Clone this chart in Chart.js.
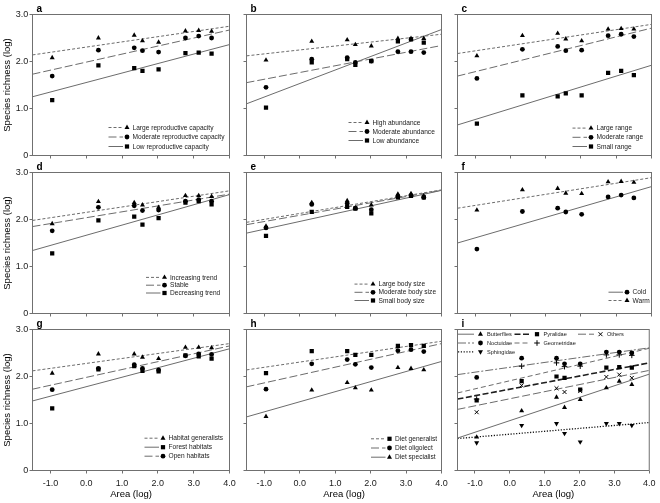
<!DOCTYPE html>
<html><head><meta charset="utf-8">
<script src="https://cdn.jsdelivr.net/npm/chart.js@4.4.1/dist/chart.umd.min.js"></script>
<style>
html,body{margin:0;padding:0;background:#fff;}
#wrap{position:relative;width:660px;height:503px;overflow:hidden;background:#fff;}
#wrap canvas{position:absolute;left:0;top:0;}
</style></head><body><div id="wrap"></div>
<script>
// ---------- data ----------
const AREA_X = [-0.95, 0.34, 1.34, 1.57, 2.02, 2.77, 3.14, 3.5];
const FIT_X = [-1.5, 4.0];
const X_TICKS = [-1, 0, 1, 2, 3, 4];
const X_TICK_LABELS = ['-1.0', '0.0', '1.0', '2.0', '3.0', '4.0'];
const Y_TICKS = [0, 1, 2, 3];
const Y_TICK_LABELS = ['0', '1.0', '2.0', '3.0'];

const A_LARGE = [2.08, 2.50, 2.56, 2.44, 2.41, 2.65, 2.66, 2.64];
const A_LARGE_FIT = [2.14, 2.75];
const A_MODERATE = [1.69, 2.24, 2.29, 2.23, 2.20, 2.50, 2.54, 2.50];
const A_MODERATE_FIT = [1.73, 2.67];
const A_LOW = [1.18, 1.92, 1.86, 1.80, 1.83, 2.18, 2.19, 2.17];
const A_LOW_FIT = [1.25, 2.36];

const B_HIGH = [2.03, 2.43, 2.46, 2.36, 2.33, 2.49, 2.49, 2.49];
const B_HIGH_FIT = [2.12, 2.58];
const B_MODERATE = [1.45, 2.05, 2.08, 1.98, 2.01, 2.21, 2.21, 2.19];
const B_MODERATE_FIT = [1.55, 2.34];
const B_LOW = [1.02, 1.98, 2.05, 1.93, 2.01, 2.43, 2.47, 2.40];
const B_LOW_FIT = [1.10, 2.68];

const C_LARGE = [2.12, 2.55, 2.60, 2.48, 2.44, 2.69, 2.70, 2.69];
const C_LARGE_FIT = [2.17, 2.79];
const C_MODERATE = [1.64, 2.26, 2.32, 2.23, 2.24, 2.55, 2.58, 2.53];
const C_MODERATE_FIT = [1.69, 2.71];
const C_SMALL = [0.68, 1.28, 1.26, 1.32, 1.28, 1.76, 1.80, 1.71];
const C_SMALL_FIT = [0.65, 1.92];

const D_INCREASING = [1.91, 2.38, 2.36, 2.31, 2.26, 2.51, 2.51, 2.49];
const D_INCREASING_FIT = [1.98, 2.61];
const D_STABLE = [1.76, 2.26, 2.29, 2.19, 2.20, 2.39, 2.42, 2.39];
const D_STABLE_FIT = [1.85, 2.54];
const D_DECREASING = [1.28, 1.98, 2.06, 1.89, 2.03, 2.36, 2.39, 2.32];
const D_DECREASING_FIT = [1.34, 2.53];

const E_LARGE = [1.86, 2.36, 2.40, 2.24, 2.31, 2.54, 2.55, 2.50];
const E_LARGE_FIT = [1.94, 2.63];
const E_MODERATE = [1.82, 2.32, 2.34, 2.24, 2.21, 2.49, 2.51, 2.47];
const E_MODERATE_FIT = [1.89, 2.62];
const E_SMALL = [1.65, 2.16, 2.27, 2.23, 2.13, 2.47, 2.50, 2.47];
const E_SMALL_FIT = [1.71, 2.62];

const F_COLD = [1.37, 2.17, 2.24, 2.16, 2.11, 2.48, 2.52, 2.46];
const F_COLD_FIT = [1.50, 2.70];
const F_WARM = [2.20, 2.63, 2.66, 2.56, 2.55, 2.80, 2.81, 2.79];
const F_WARM_FIT = [2.24, 2.89];

const G_GENERALISTS = [2.07, 2.48, 2.48, 2.41, 2.38, 2.62, 2.62, 2.61];
const G_GENERALISTS_FIT = [2.12, 2.70];
const G_FOREST = [1.32, 2.15, 2.22, 2.12, 2.11, 2.45, 2.43, 2.38];
const G_FOREST_FIT = [1.48, 2.59];
const G_OPEN = [1.72, 2.17, 2.25, 2.17, 2.14, 2.44, 2.48, 2.47];
const G_OPEN_FIT = [1.73, 2.65];

const H_GENERALIST = [2.07, 2.54, 2.54, 2.46, 2.46, 2.65, 2.67, 2.65];
const H_GENERALIST_FIT = [2.14, 2.75];
const H_OLIGOLECT = [1.73, 2.27, 2.36, 2.26, 2.19, 2.55, 2.57, 2.53];
const H_OLIGOLECT_FIT = [1.78, 2.70];
const H_SPECIALIST = [1.15, 1.71, 1.87, 1.76, 1.71, 2.19, 2.17, 2.14];
const H_SPECIALIST_FIT = [1.14, 2.32];

const I_BUTTERFLIES = [0.71, 1.27, 1.56, 1.34, 1.51, 1.76, 1.90, 1.83];
const I_BUTTERFLIES_FIT = [0.69, 2.05];
const I_NOCTUIDAE = [1.98, 2.39, 2.39, 2.27, 2.27, 2.52, 2.52, 2.50];
const I_NOCTUIDAE_FIT = [2.04, 2.61];
const I_SPHINGIDAE = [0.59, 0.96, 1.00, 0.79, 0.61, 1.00, 1.00, 0.96];
const I_SPHINGIDAE_FIT = [0.68, 1.02];
const I_PYRALIDAE = [1.49, 1.90, 2.00, 1.97, 1.72, 2.19, 2.20, 2.19];
const I_PYRALIDAE_FIT = [1.52, 2.29];
const I_GEOMETRIDAE = [1.52, 2.22, 2.29, 2.21, 2.22, 2.46, 2.46, 2.45];
const I_GEOMETRIDAE_FIT = [1.65, 2.60];
const I_OTHERS = [1.24, 1.81, 1.75, 1.67, 1.69, 1.99, 2.04, 1.97];
const I_OTHERS_FIT = [1.30, 2.13];

// ---------- styles / layout ----------
const FONT = '"Liberation Sans", Arial, Helvetica, sans-serif';
Chart.defaults.font.family = FONT;
const LINE_GRAY = '#6c6c6c';
const STYLE = {
  short:   {dash: [3, 2],       color: LINE_GRAY, width: 1},
  long:    {dash: [8, 3],       color: LINE_GRAY, width: 1},
  solid:   {dash: [],           color: LINE_GRAY, width: 1},
  dashdot: {dash: [8, 2, 2, 2], color: LINE_GRAY, width: 1},
  mid:     {dash: [5, 3],       color: LINE_GRAY, width: 1},
  heavy:   {dash: [6, 2.5],     color: '#1e1e1e', width: 1.6},
  dot:     {dash: [1.2, 1.6],   color: '#111',    width: 1.3}
};
const MARK = {
  tri:   {pointStyle: 'triangle', radius: 2.9, rotation: 0,   borderWidth: 0},
  triDn: {pointStyle: 'triangle', radius: 2.9, rotation: 180, borderWidth: 0},
  circ:  {pointStyle: 'circle',   radius: 2.4, rotation: 0,   borderWidth: 0},
  sq:    {pointStyle: 'rect',     radius: 3.0, rotation: 0,   borderWidth: 0},
  plus:  {pointStyle: 'cross',    radius: 2.8, rotation: 0,   borderWidth: 1},
  xmark: {pointStyle: 'crossRot', radius: 2.8, rotation: 0,   borderWidth: 1}
};
const COL_L = [32.5, 246.5, 457.5];
const COL_R = [229.5, 441.5, 651.5];
const ROW_T = [14.5, 172.5, 329.5];
const ROW_B = [155.5, 313.5, 470.5];
const Y_AXIS_W = 32, X_AXIS_H = 30;

const PANELS = [
  {letter: 'a', col: 0, row: 0, legend: {tx: 100, last: 9, gap: 9.5, font: 6.6},
   series: [['Large reproductive capacity', A_LARGE, A_LARGE_FIT, 'short', 'tri'],
            ['Moderate reproductive capacity', A_MODERATE, A_MODERATE_FIT, 'long', 'circ'],
            ['Low reproductive capacity', A_LOW, A_LOW_FIT, 'solid', 'sq']]},
  {letter: 'b', col: 1, row: 0, legend: {tx: 126, last: 15, gap: 9, font: 6.6},
   series: [['High abundance', B_HIGH, B_HIGH_FIT, 'short', 'tri'],
            ['Moderate abundance', B_MODERATE, B_MODERATE_FIT, 'long', 'circ'],
            ['Low abundance', B_LOW, B_LOW_FIT, 'solid', 'sq']]},
  {letter: 'c', col: 2, row: 0, legend: {tx: 139, last: 9, gap: 9.2, font: 6.6},
   series: [['Large range', C_LARGE, C_LARGE_FIT, 'short', 'tri'],
            ['Moderate range', C_MODERATE, C_MODERATE_FIT, 'long', 'circ'],
            ['Small range', C_SMALL, C_SMALL_FIT, 'solid', 'sq']]},
  {letter: 'd', col: 0, row: 1, legend: {tx: 137.5, last: 20.5, gap: 7.8, font: 6.6},
   series: [['Increasing trend', D_INCREASING, D_INCREASING_FIT, 'short', 'tri'],
            ['Stable', D_STABLE, D_STABLE_FIT, 'long', 'circ'],
            ['Decreasing trend', D_DECREASING, D_DECREASING_FIT, 'solid', 'sq']]},
  {letter: 'e', col: 1, row: 1, legend: {tx: 132, last: 13, gap: 8.2, font: 6.6},
   series: [['Large body size', E_LARGE, E_LARGE_FIT, 'short', 'tri'],
            ['Moderate body size', E_MODERATE, E_MODERATE_FIT, 'long', 'circ'],
            ['Small body size', E_SMALL, E_SMALL_FIT, 'solid', 'sq']]},
  {letter: 'f', col: 2, row: 1, legend: {tx: 175, last: 13, gap: 8.3, font: 6.6},
   series: [['Cold', F_COLD, F_COLD_FIT, 'solid', 'circ'],
            ['Warm', F_WARM, F_WARM_FIT, 'short', 'tri']]},
  {letter: 'g', col: 0, row: 2, legend: {tx: 136, last: 14.3, gap: 9, font: 6.6},
   series: [['Habitat generalists', G_GENERALISTS, G_GENERALISTS_FIT, 'short', 'tri'],
            ['Forest habitats', G_FOREST, G_FOREST_FIT, 'solid', 'sq'],
            ['Open habitats', G_OPEN, G_OPEN_FIT, 'long', 'circ']]},
  {letter: 'h', col: 1, row: 2, legend: {tx: 148.5, last: 13.3, gap: 9.2, font: 6.6},
   series: [['Diet generalist', H_GENERALIST, H_GENERALIST_FIT, 'short', 'sq'],
            ['Diet oligolect', H_OLIGOLECT, H_OLIGOLECT_FIT, 'long', 'circ'],
            ['Diet specialist', H_SPECIALIST, H_SPECIALIST_FIT, 'solid', 'tri']]},
  {letter: 'i', col: 2, row: 2, legend: {grid: true, font: 5.6,
     cols: [29.5, 86, 149.5], rows: [4.7, 13.5, 22.3], order: [[0, 0], [0, 1], [0, 2], [1, 0], [1, 1], [2, 0]]},
   series: [['Butterflies', I_BUTTERFLIES, I_BUTTERFLIES_FIT, 'solid', 'tri'],
            ['Noctuidae', I_NOCTUIDAE, I_NOCTUIDAE_FIT, 'dashdot', 'circ'],
            ['Sphingidae', I_SPHINGIDAE, I_SPHINGIDAE_FIT, 'dot', 'triDn'],
            ['Pyralidae', I_PYRALIDAE, I_PYRALIDAE_FIT, 'heavy', 'sq'],
            ['Geometridae', I_GEOMETRIDAE, I_GEOMETRIDAE_FIT, 'mid', 'plus'],
            ['Others', I_OTHERS, I_OTHERS_FIT, 'long', 'xmark']]}
];

// ---------- decoration plugin: frame, panel letter, legend ----------
const decor = {
  id: 'decor',
  afterDraw(chart, args, o) {
    const {ctx, chartArea: a} = chart;
    const p = o.panel;
    ctx.save();
    ctx.setLineDash([]);
    ctx.strokeStyle = '#707070';
    ctx.lineWidth = 1;
    ctx.strokeRect(a.left, a.top, a.right - a.left, a.bottom - a.top);
    ctx.fillStyle = '#000';
    ctx.font = 'bold 10px ' + FONT;
    ctx.textAlign = 'left';
    ctx.textBaseline = 'alphabetic';
    ctx.fillText(p.letter, a.left + 4, a.top - 3);
    const lg = p.legend;
    ctx.font = lg.font + 'px ' + FONT;
    ctx.textBaseline = 'middle';
    const n = p.series.length;
    p.series.forEach((s, k) => {
      let x, y, l0, l1, mg;
      if (lg.grid) {
        const [c, r] = lg.order[k];
        x = a.left + lg.cols[c]; y = a.top + lg.rows[r];
        l0 = 29; l1 = 13; mg = 6.5;
      } else {
        x = a.left + lg.tx; y = a.bottom - lg.last - (n - 1 - k) * lg.gap;
        l0 = 24; l1 = 9.5; mg = 5.5;
      }
      const st = STYLE[s[3]];
      ctx.strokeStyle = st.color; ctx.lineWidth = st.width; ctx.setLineDash(st.dash);
      ctx.beginPath(); ctx.moveTo(x - l0, y); ctx.lineTo(x - l1, y); ctx.stroke();
      ctx.setLineDash([]);
      const m = MARK[s[4]];
      ctx.fillStyle = '#000'; ctx.strokeStyle = '#000'; ctx.lineWidth = 1;
      Chart.helpers.drawPoint(ctx, m, x - mg, y);
      ctx.fillStyle = '#1a1a1a';
      ctx.fillText(s[0], x, y + 0.3);
    });
    ctx.restore();
  }
};

const wrap = document.getElementById('wrap');
PANELS.forEach(p => {
  const cv = document.createElement('canvas');
  cv.width = 660; cv.height = 503;
  cv.style.width = '660px'; cv.style.height = '503px';
  wrap.appendChild(cv);
  const L = COL_L[p.col], R = COL_R[p.col], T = ROW_T[p.row], B = ROW_B[p.row];
  const showY = p.col === 0, showX = p.row === 2;
  const datasets = [];
  p.series.forEach(s => {
    const m = MARK[s[4]];
    datasets.push({
      type: 'scatter', label: s[0],
      data: AREA_X.map((x, i) => ({x, y: s[1][i]})),
      pointStyle: m.pointStyle, pointRadius: m.radius, pointRotation: m.rotation,
      pointBorderWidth: m.borderWidth, pointBackgroundColor: '#000', pointBorderColor: '#000',
      backgroundColor: '#000', borderColor: '#000', showLine: false, order: 0
    });
  });
  p.series.forEach(s => {
    const st = STYLE[s[3]];
    datasets.push({
      type: 'line', label: s[0] + ' fit',
      data: FIT_X.map((x, i) => ({x, y: s[2][i]})),
      borderColor: st.color, borderWidth: st.width, borderDash: st.dash,
      pointRadius: 0, fill: false, tension: 0, order: 1
    });
  });
  new Chart(cv, {
    type: 'scatter',
    data: {datasets},
    plugins: [decor],
    options: {
      responsive: false, animation: false, devicePixelRatio: 1,
      layout: {padding: {left: L - Y_AXIS_W, right: 660 - R, top: T, bottom: 503 - B - X_AXIS_H}},
      plugins: {legend: {display: false}, tooltip: {enabled: false}, decor: {panel: p}},
      scales: {
        x: {
          type: 'linear', position: 'bottom', min: -1.5, max: 4.0,
          afterBuildTicks: sc => { sc.ticks = X_TICKS.map(v => ({value: v})); },
          afterFit: sc => { sc.height = X_AXIS_H; },
          ticks: {callback: (v, i) => showX ? X_TICK_LABELS[i] : '', color: '#1a1a1a',
                  font: {size: 9}, padding: 4.5, maxRotation: 0, autoSkip: false},
          grid: {drawOnChartArea: false, drawTicks: true, tickLength: 3, color: '#707070'},
          border: {display: false},
          title: {display: showX, text: 'Area (log)', color: '#000', font: {size: 9.5}, padding: {top: 0, bottom: 0}}
        },
        y: {
          type: 'linear', position: 'left', min: 0, max: 3,
          afterBuildTicks: sc => { sc.ticks = Y_TICKS.map(v => ({value: v})); },
          afterFit: sc => { sc.width = Y_AXIS_W; },
          ticks: {callback: (v, i) => showY ? Y_TICK_LABELS[i] : '', color: '#1a1a1a',
                  font: {size: 9}, padding: 1.2, autoSkip: false},
          grid: {drawOnChartArea: false, drawTicks: true, tickLength: 3, color: '#707070'},
          border: {display: false},
          title: {display: showY, text: 'Species richness (log)', color: '#000', font: {size: 9.5}, padding: {top: 1, bottom: 0}}
        }
      }
    }
  });
});
</script></body></html>
